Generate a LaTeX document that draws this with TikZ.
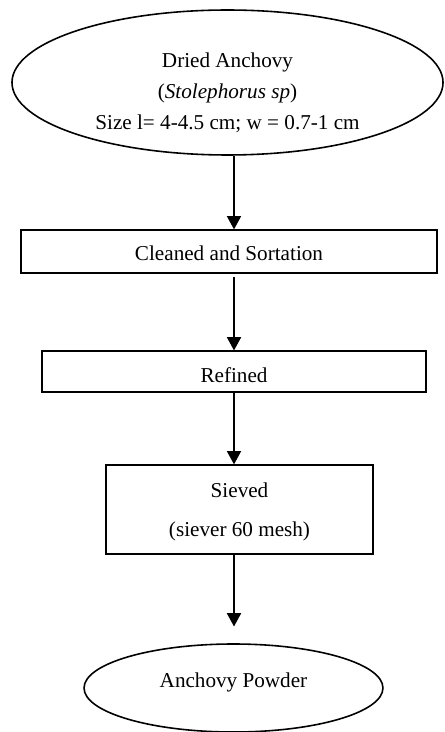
\documentclass[tikz,border=0pt]{standalone}
\usepackage{fontspec}
\setmainfont{Liberation Serif}
\usetikzlibrary{arrows.meta,shapes.geometric}
\tikzset{
  stagebox/.style={draw=black, line width=0.7pt, rectangle, inner sep=0pt},
  endoval/.style={draw=black, line width=0.9pt, ellipse, inner sep=0pt},
  flowarrow/.style={-{Triangle[width=8pt,length=7.5pt]}, line width=0.7pt},
  steptext/.style={font=\fontsize{12}{14}\selectfont, align=center, inner sep=0pt}
}

\begin{document}
\begin{tikzpicture}[x=0.567pt,y=-0.567pt]
\useasboundingbox (0,0) rectangle (445,732);
\coordinate (axis) at (234,0);
% raw material
\node[endoval, minimum width=244.4pt, minimum height=82.2pt] (raw) at (227.5,82.5) {};
\node[steptext, font=\fontsize{12}{17.5}\selectfont] (rawtext) at (227.5,93)
  {Dried Anchovy\\(\textit{Stolephorus sp})\\Size l= 4-4.5 cm; w = 0.7-1 cm};
% process steps
\node[stagebox, minimum width=235.9pt, minimum height=24.4pt] (clean) at (229,251.5) {};
\node[steptext] (cleantext) at (229,253) {Cleaned and Sortation};
\node[stagebox, minimum width=217.7pt, minimum height=23.2pt] (refine) at (234,371.5) {};
\node[steptext] (refinetext) at (234,375) {Refined};
\node[stagebox, minimum width=151.4pt, minimum height=50.5pt] (sieve) at (239.5,509.5) {};
\node[steptext, font=\fontsize{12}{22.5}\selectfont] (sievetext) at (239.5,512) {Sieved\\(siever 60 mesh)};
% product
\node[endoval, minimum width=169.5pt, minimum height=49.9pt] (powder) at (233.5,688) {};
\node[steptext] (powdertext) at (233.5,682) {Anchovy Powder};
% arrows
\draw[flowarrow] (axis |- raw.south) -- (axis |- clean.north);
\draw[flowarrow, shorten <=2pt] (axis |- clean.south) -- (axis |- refine.north);
\draw[flowarrow] (axis |- refine.south) -- (axis |- sieve.north);
\draw[flowarrow, shorten >=9.5pt] (axis |- sieve.south) -- (axis |- powder.north);
\end{tikzpicture}
\end{document}
